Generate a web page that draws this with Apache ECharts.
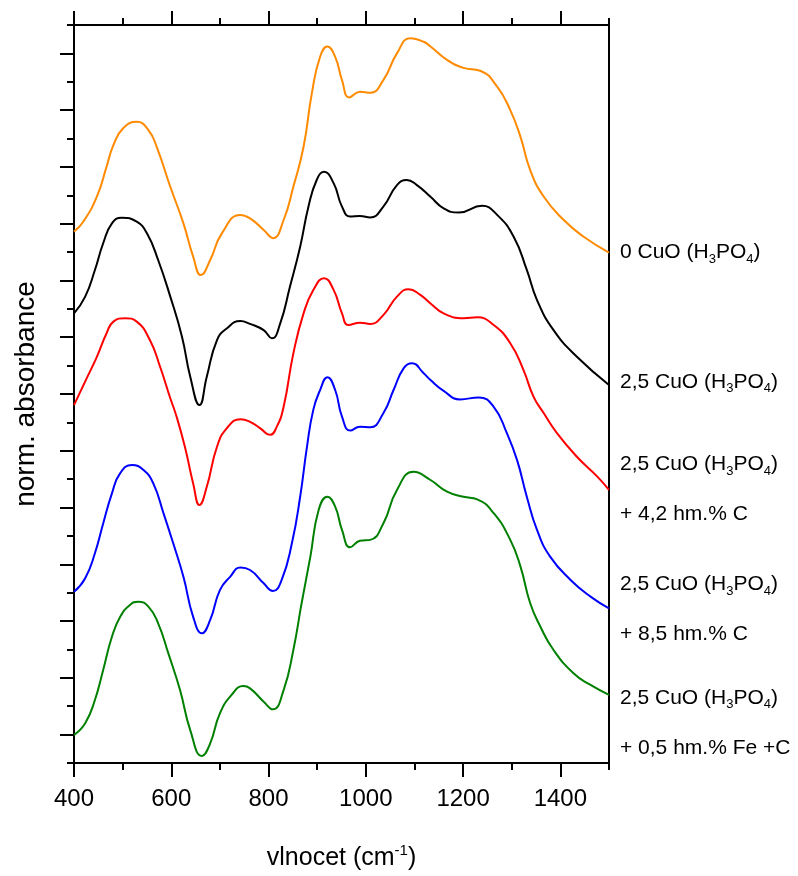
<!DOCTYPE html>
<html>
<head>
<meta charset="utf-8">
<script src="https://cdn.jsdelivr.net/npm/echarts@6/dist/echarts.min.js"></script>
<style>
  html, body { margin: 0; padding: 0; background: #fff; }
  #chart { width: 798px; height: 876px; }
</style>
</head>
<body>
<div id="chart"></div>
<script>
// wavenumber (cm-1) / normalized absorbance (offset curves)
const wnOrange = [400,419,447,467,481,501,529,553,570,598,625,645,661,680,704,742,762,790,809,831,851,872,889,906,921,937,951,966,988,1009,1036,1064,1091,1119,1133,1167,1201,1235,1270,1297,1318,1338,1366,1407,1448,1500];
const absOrange = [1.872,1.907,1.995,2.101,2.177,2.236,2.259,2.230,2.171,2.030,1.901,1.784,1.719,1.772,1.866,1.931,1.919,1.878,1.849,1.913,2.030,2.171,2.359,2.488,2.524,2.488,2.406,2.345,2.365,2.361,2.406,2.500,2.553,2.541,2.524,2.477,2.449,2.439,2.383,2.300,2.206,2.089,1.995,1.913,1.854,1.798];

const wnBlack = [400,423,443,460,478,498,529,550,573,598,622,639,658,673,694,714,742,762,790,807,824,844,865,882,899,914,934,951,968,988,1009,1036,1064,1084,1105,1133,1160,1191,1239,1270,1304,1331,1352,1386,1434,1500];
const absBlack = [1.584,1.643,1.737,1.831,1.901,1.921,1.907,1.866,1.772,1.643,1.502,1.361,1.261,1.361,1.490,1.531,1.557,1.547,1.525,1.496,1.549,1.678,1.819,1.960,2.054,2.083,2.042,1.960,1.925,1.927,1.922,1.960,2.036,2.054,2.036,1.995,1.954,1.939,1.963,1.931,1.854,1.737,1.631,1.525,1.431,1.332];

const wnRed = [400,426,447,467,481,505,529,556,577,598,611,628,645,658,673,694,714,742,762,783,803,817,831,851,872,892,914,934,951,964,988,1009,1036,1064,1088,1112,1133,1160,1201,1229,1263,1297,1324,1345,1366,1393,1434,1476,1500];
const absRed = [1.261,1.355,1.431,1.514,1.555,1.567,1.555,1.490,1.396,1.285,1.220,1.114,0.985,0.909,0.973,1.114,1.179,1.211,1.202,1.179,1.156,1.185,1.255,1.443,1.584,1.666,1.708,1.666,1.584,1.543,1.551,1.547,1.578,1.643,1.669,1.649,1.619,1.584,1.567,1.570,1.543,1.479,1.385,1.290,1.232,1.162,1.079,1.009,0.962];

const wnBlue = [400,423,443,460,478,495,519,543,563,584,604,625,645,663,680,700,721,742,762,790,809,827,848,865,879,892,906,921,937,951,968,988,1009,1036,1057,1078,1095,1119,1133,1160,1194,1232,1263,1290,1311,1331,1352,1379,1421,1462,1500];
const absBlue = [0.603,0.651,0.739,0.844,0.950,1.021,1.050,1.032,0.985,0.880,0.774,0.656,0.515,0.457,0.504,0.609,0.656,0.689,0.680,0.633,0.606,0.645,0.774,0.938,1.114,1.244,1.314,1.359,1.314,1.220,1.171,1.185,1.183,1.232,1.314,1.391,1.408,1.373,1.349,1.311,1.281,1.288,1.255,1.162,1.067,0.938,0.821,0.727,0.645,0.586,0.545];

const wnGreen = [400,423,443,460,478,495,515,532,553,573,594,618,639,663,680,700,724,748,762,790,809,831,851,868,886,903,921,937,951,968,988,1009,1036,1064,1098,1133,1167,1201,1229,1263,1297,1318,1338,1359,1386,1427,1462,1500];
const absGreen = [0.099,0.140,0.222,0.328,0.445,0.515,0.557,0.568,0.551,0.492,0.386,0.257,0.116,0.025,0.069,0.175,0.240,0.271,0.263,0.216,0.189,0.257,0.398,0.563,0.727,0.891,0.938,0.903,0.821,0.760,0.783,0.786,0.844,0.962,1.026,0.997,0.956,0.938,0.929,0.880,0.786,0.692,0.563,0.480,0.398,0.316,0.275,0.240];

const labelMain = ['0 CuO', '2,5 CuO', '2,5 CuO', '2,5 CuO', '2,5 CuO'];
const labelExtra = ['', '', '+ 4,2 hm.% C', '+ 8,5 hm.% C', '+ 0,5 hm.% Fe +C'];

const xMajor = [400, 600, 800, 1000, 1200, 1400];
const xMinor = [500, 700, 900, 1100, 1300, 1500];
const yMajor = [0.1, 0.3, 0.5, 0.7, 0.9, 1.1, 1.3, 1.5, 1.7, 1.9, 2.1, 2.3, 2.5];
const yMinor = [0, 0.2, 0.4, 0.6, 0.8, 1.0, 1.2, 1.4, 1.6, 1.8, 2.0, 2.2, 2.4, 2.6];

const FONT = 'Liberation Sans, Arial, sans-serif';
const chart = echarts.init(document.getElementById('chart'));

const tickStyle = { color: '#000', width: 2 };

function xAx(pos, ticks, len, withLabels) {
  return {
    type: 'value', position: pos, min: 400, max: 1500, offset: 0,
    axisLine: { show: true, onZero: false, lineStyle: { color: '#000', width: 2 } },
    axisTick: { show: true, inside: false, length: len, customValues: ticks, lineStyle: tickStyle },
    axisLabel: withLabels
      ? { show: true, customValues: xMajor, formatter: v => String(v), color: '#000', fontSize: 24, fontFamily: FONT, margin: 24 }
      : { show: false },
    splitLine: { show: false }
  };
}
function yAx(pos, ticks, len) {
  return {
    type: 'value', position: pos, min: 0, max: 2.6, offset: 0,
    axisLine: { show: true, onZero: false, lineStyle: { color: '#000', width: 2 } },
    axisTick: { show: ticks !== null, inside: false, length: len, customValues: ticks || [], lineStyle: tickStyle },
    axisLabel: { show: false },
    splitLine: { show: false }
  };
}

const xBottom = xAx('bottom', xMajor, 14, true);
xBottom.name = '{t|vlnocet (cm}{sup|-1}{t|)}';
xBottom.nameLocation = 'middle';
xBottom.nameGap = 80;
xBottom.nameTextStyle = {
  rich: {
    t: { fontSize: 25, fontFamily: FONT, color: '#000', lineHeight: 30 },
    sup: { fontSize: 15, fontFamily: FONT, color: '#000', lineHeight: 15, padding: [0, 0, 15, 0] }
  }
};

const yLeft = yAx('left', yMajor, 14);
yLeft.name = 'norm. absorbance';
yLeft.nameLocation = 'middle';
yLeft.nameGap = 34;
yLeft.nameTextStyle = { fontSize: 28, fontFamily: FONT, color: '#000' };

const colors = ['#ff8a00', '#000000', '#ff0000', '#0000ff', '#008000'];
const wns = [wnOrange, wnBlack, wnRed, wnBlue, wnGreen];
const abss = [absOrange, absBlack, absRed, absBlue, absGreen];
const labelDy = [0, -3, -1, 1, 28];

const series = wns.map((wn, i) => ({
  type: 'line',
  xAxisIndex: 0,
  yAxisIndex: 0,
  data: wn.map((w, k) => [w, abss[i][k]]),
  smooth: 0.5,
  symbol: 'none',
  lineStyle: { color: colors[i], width: 2 },
  endLabel: {
    show: true,
    distance: 11,
    offset: [0, labelDy[i]],
    formatter: () => {
      let s = '{n|' + labelMain[i] + ' (H}{s|3}{n|PO}{s|4}{n|)}';
      if (labelExtra[i]) s += '\n{n|' + labelExtra[i] + '}';
      return s;
    },
    rich: {
      n: { fontSize: 21, fontFamily: FONT, color: '#000', lineHeight: 50, verticalAlign: 'middle' },
      s: { fontSize: 13, fontFamily: FONT, color: '#000', lineHeight: 13, padding: [14, 0, 0, 0], verticalAlign: 'middle' }
    }
  }
}));

chart.setOption({
  animation: false,
  backgroundColor: '#fff',
  grid: { left: 74, top: 25, width: 535, height: 738, outerBoundsMode: 'none' },
  xAxis: [xBottom, xAx('bottom', xMinor, 7, false), xAx('top', xMajor, 14, false), xAx('top', xMinor, 7, false)],
  yAxis: [yLeft, yAx('left', yMinor, 7), yAx('right', null, 0)],
  series: series
});
</script>
</body>
</html>
